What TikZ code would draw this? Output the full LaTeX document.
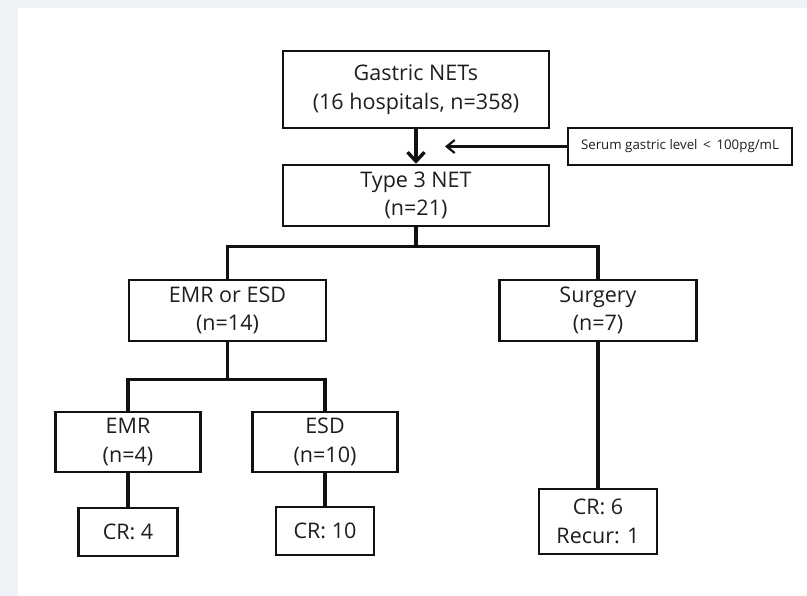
\documentclass[tikz,border=0pt]{standalone}
\usepackage{fontspec}
\setmainfont{Open Sans}
\usetikzlibrary{arrows.meta}
\definecolor{cbg}{HTML}{EDF2F7}
\definecolor{cink}{HTML}{111111}
\definecolor{ctext}{HTML}{1E1E1E}
\tikzset{
  every picture/.style={x=1pt, y=-1pt},
  box/.style={draw=cink, fill=white, line width=2.6pt, align=center, inner sep=0pt,
              text=ctext, font=\fontsize{21.5}{28.5}\selectfont},
  note/.style={box, line width=2.2pt, font=\fontsize{13.3}{15}\selectfont},
  link/.style={draw=cink, line width=3.4pt},
  arrow/.style={-{Straight Barb[length=9pt, width=17pt]}, draw=cink, line width=3.4pt},
  thinarrow/.style={-{Straight Barb[length=8pt, width=13pt]}, draw=cink, line width=2.2pt},
}
\begin{document}
\begin{tikzpicture}
  \useasboundingbox (0,0) rectangle (807,596);
  \fill[cbg] (0,0) rectangle (807,596);
  \fill[white] (18,8) rectangle (807,596);
  % top of the tree
  \node[box, minimum width=266, minimum height=77] (gastric) at (416,89.5) {Gastric NETs\\(16 hospitals, n=358)};
  \node[box, minimum width=266, minimum height=61] (type3) at (416,195.5) {Type 3 NET\\(n=21)};
  \node[note, minimum width=224, minimum height=37] (serum) at (680,146.5) {Serum gastric level \,<\, 100pg/mL};
  \coordinate (serumtip) at (445,146.5);
  % treatment groups
  \node[box, minimum width=197, minimum height=61] (emresd) at (227.5,310.5) {EMR or ESD\\(n=14)};
  \node[box, minimum width=197, minimum height=61] (surgery) at (598,310.5) {Surgery\\(n=7)};
  \node[box, minimum width=145, minimum height=60] (emr) at (128,442) {EMR\\(n=4)};
  \node[box, minimum width=145, minimum height=60] (esd) at (325,442) {ESD\\(n=10)};
  % outcomes
  \node[box, minimum width=99, minimum height=48] (cr4) at (128,532) {CR: 4};
  \node[box, minimum width=98, minimum height=48] (cr10) at (325,531) {CR: 10};
  \node[box, minimum width=118, minimum height=65] (cr6) at (598,521.5) {CR: 6\\Recur: 1};

  \draw[arrow] (gastric) -- (type3);
  \draw[thinarrow] (serum) -- (serumtip);
  \draw[link] (type3.south) -- ++(0,19) -| (emresd.north);
  \draw[link] (type3.south) -- ++(0,19) -| (surgery.north);
  \draw[link] (emresd.south) -- ++(0,37) -| (emr.north);
  \draw[link] (emresd.south) -- ++(0,37) -| (esd.north);
  \draw[link] (emr) -- (cr4);
  \draw[link] (esd) -- (cr10);
  \draw[link] (surgery) -- (cr6);
\end{tikzpicture}
\end{document}
